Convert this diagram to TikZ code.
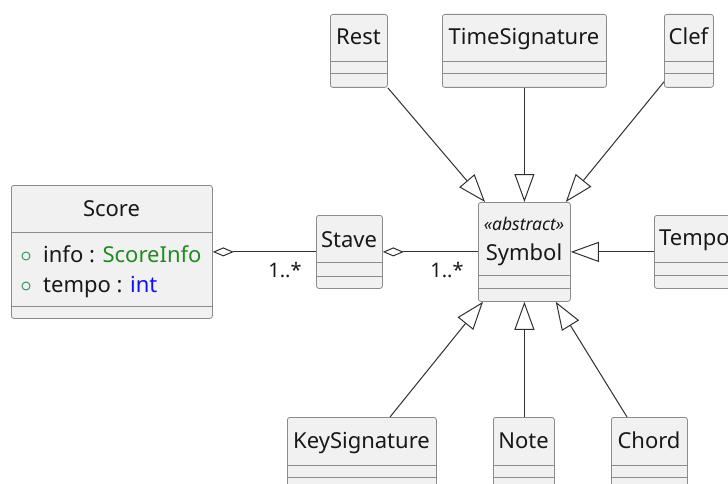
\documentclass[tikz,border=0pt]{standalone}
\usepackage{fontspec}
\setmainfont{Noto Sans}
\usetikzlibrary{arrows.meta}
\definecolor{boxfill}{HTML}{F1F1F1}
\definecolor{boxline}{HTML}{8C8C8C}
\definecolor{ink}{HTML}{181818}
\definecolor{wire}{HTML}{303030}
\definecolor{typegreen}{HTML}{1E8C1E}
\definecolor{typeblue}{HTML}{1010FF}
\definecolor{pubgreen}{HTML}{2E9A5E}

% class box: name, left, top, right, bottom, first separator, second separator
\newcommand{\umlbox}[7]{%
  \node[cls, minimum width={#4-#2}, minimum height={#5-#3}] (#1) at (#2,#3) {};
  \draw[sepline] (#2,#6) -- (#4,#6);
  \draw[sepline] (#2,#7) -- (#4,#7);
}

\begin{document}
\begin{tikzpicture}[x=1pt, y=-1pt,
  cls/.style={draw=boxline, fill=boxfill, rounded corners=2.5pt, line width=0.8pt,
              inner sep=0pt, anchor=north west},
  sepline/.style={draw=boxline, line width=0.8pt},
  title/.style={anchor=base, inner sep=0pt, text=ink, font=\fontsize{22}{26}\selectfont},
  member/.style={anchor=base west, inner sep=0pt, text=ink, font=\fontsize{22}{26}\selectfont},
  mult/.style={anchor=base, inner sep=0pt, text=ink, font=\fontsize{20}{24}\selectfont},
  stereo/.style={anchor=base, inner sep=0pt, text=ink, font=\fontsize{17.5}{20}\selectfont\itshape},
  extends/.style={draw=wire, line width=1pt,
                  -{Triangle[open, length=28pt, width=20pt, fill=white]}},
  aggregate/.style={draw=wire, line width=1pt,
                  {Diamond[open, length=21pt, width=9pt, fill=white]}-},
  pubmark/.style={draw=pubgreen, line width=1pt}
]
\useasboundingbox (0,0) rectangle (728,484);
\fill[white] (0,0) rectangle (728,484);
\clip (0,0) rectangle (728,484);

% boxes
\umlbox{score}{11}{185}{212}{318}{232}{306}
\umlbox{stave}{316}{215}{382}{288}{262}{276}
\umlbox{sym}{478}{202}{570}{301}{275}{288}
\umlbox{rest}{330}{14}{387}{87}{61}{73}
\umlbox{timesig}{442}{14}{606}{87}{61}{73}
\umlbox{clef}{664}{14}{713}{87}{61}{73}
\umlbox{tempo}{654}{215}{760}{288}{262}{275}
\umlbox{keysig}{287}{417}{436}{510}{465}{477}
\umlbox{note}{493}{417}{554}{510}{465}{477}
\umlbox{chord}{611}{417}{687}{510}{465}{477}

% class names
\node[title] (scoreT) at (111.5,216) {Score};
\node[title] (staveT) at (349,247) {Stave};
\node[stereo] (symS) at (524,230) {«abstract»};
\node[title] (symT) at (524,260) {Symbol};
\node[title] (restT) at (358.5,45) {Rest};
\node[title] (timesigT) at (524,45) {TimeSignature};
\node[title] (clefT) at (688.5,45) {Clef};
\node[member] (tempoT) at (659,245) {Tempo};
\node[title] (keysigT) at (361.5,448) {KeySignature};
\node[title] (noteT) at (523.5,448) {Note};
\node[title] (chordT) at (649,448) {Chord};

% fields of Score
\draw[pubmark] (26,256) circle (4pt);
\node[member] (infoF) at (43,262) {info : \textcolor{typegreen}{ScoreInfo}};
\draw[pubmark] (26,286) circle (4pt);
\node[member] (tempoF) at (43,292) {tempo : \textcolor{typeblue}{int}};

% aggregations
\draw[aggregate] (score.east) -- (stave.west);
\draw[aggregate] (stave.east) -- (sym.west);
\node[mult] (m1) at (285,277) {1..*};
\node[mult] (m2) at (447,277) {1..*};

% generalisations
\draw[extends] (rest.south east) -- ([xshift=7pt]sym.north west);
\draw[extends] (timesig.south) -- (sym.north);
\draw[extends] ([yshift=6pt]clef.south west) -- ([xshift=-5pt]sym.north east);
\draw[extends] (tempo.west |- sym.east) -- (sym.east);
\draw[extends] ([xshift=103pt]keysig.north west) -- ([xshift=5pt]sym.south west);
\draw[extends] (sym.south |- note.north) -- (sym.south);
\draw[extends] ([xshift=16pt]chord.north west) -- ([xshift=-15pt]sym.south east);
\end{tikzpicture}
\end{document}
